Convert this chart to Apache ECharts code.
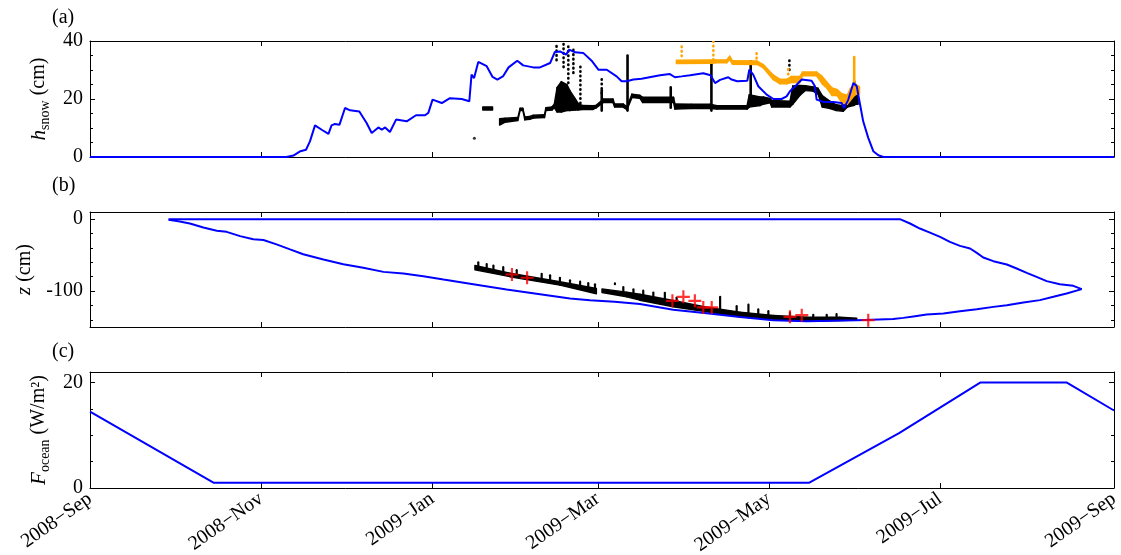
<!DOCTYPE html>
<html><head><meta charset="utf-8">
<script src="https://cdn.jsdelivr.net/npm/echarts@6/dist/echarts.min.js"></script>
<style>html,body{margin:0;padding:0;background:#fff}#c{width:1121px;height:555px}</style>
</head><body><div id="c"></div>
<script>
// ---------- axis ticks ----------
const startDate = '2008-09-01';   // day 0 of all "day" values below
const xTickDates = ['2008-09-01','2008-11-01','2009-01-01','2009-03-01','2009-05-01','2009-07-01','2009-09-01'];
const xTickLabels = ['2008\u2212Sep','2008\u2212Nov','2009\u2212Jan','2009\u2212Mar','2009\u2212May','2009\u2212Jul','2009\u2212Sep'];
const yTicksA = [0, 20, 40], yMinorA = [5, 10, 15, 25, 30, 35];
const yTicksB = [-100, 0], yMinorB = [-140, -120, -80, -60, -40, -20];
const yTicksC = [0, 20], yMinorC = [5, 10, 15];

// ---------- panel (a): snow depth (cm), [day, value] ----------
const snowModel = [[0,0],[70,0],[72.5,0.5],[75,2.0],[77,2.5],[78.4,5.4],[80.2,10.9],[82.6,9.4],[85,8.0],[86.1,10.9],[87.3,11.4],[88.9,11.1],[90.9,16.9],[92.7,16.1],[96,15.7],[98.6,11.7],[100.4,8.3],[102.8,10.2],[104,9.4],[105.2,10.2],[106.9,8.6],[109.1,12.9],[112.9,12.3],[116.2,14.4],[119.4,14.4],[120.6,15.2],[122.1,19.8],[125.4,18.6],[128.3,20.3],[132.5,20.0],[135.2,19.2],[136,28.4],[136.9,27.2],[138.4,32.8],[141.4,31.3],[143.5,27.6],[145.2,26.7],[147.3,27.9],[149.2,30.9],[152.3,33.2],[154.4,31.6],[158,30.9],[160.4,30.9],[164,32.4],[165.7,36.2],[167.5,36.4],[169.7,35.3],[170.8,37.0],[172.9,36.1],[175.8,35.9],[178.8,33.2],[181.2,30.1],[184.2,30.1],[187.7,27.8],[189.5,26.1],[191.3,26.1],[193.7,26.7],[196.6,27.0],[203.2,28.2],[206.7,28.6],[208.5,27.5],[210.9,27.8],[213.9,28.2],[218.6,28.9],[221.2,28.2],[222.8,25.5],[224.6,26.6],[227.5,27.5],[228.7,26.7],[230.7,26.1],[234.3,26.3],[235,30.1],[236.4,28.4],[238.2,24.4],[241.2,21.5],[243.6,20.0],[246.5,20.0],[248.3,20.9],[249.5,22.7],[251.9,24.9],[253.7,26.7],[257.2,26.3],[258.4,24.4],[259,19.8],[261.4,19.0],[264.9,19.0],[267.9,18.6],[268.8,16.9],[270.3,19.8],[272.1,25.5],[273.3,24.4],[274.5,18.0],[275.6,12.3],[277.4,6.6],[279.2,2.0],[281,0.6],[282.8,0],[365,0]];
// observed snow (black dots): runs of [day, low, high] bands
const snowObsRuns = [
  [[140,16.2,17.3],[143.5,16.2,17.3]],
  [[146,11,13.2],[148,12,13.4],[152.5,12.6,13.6],[153.3,16,16.8],[154.3,16,16.8],[155,12.8,13.8],[156.8,13,14],[158,13.4,14.4],[162,13.6,14.6],[162.5,16,17],[164.7,16.2,17.3],[165.5,17,18.2],[166.5,15.5,24],[168,15.5,26],[170,16,25],[171,16,23],[173,16.2,20],[174,16.2,18.5],[175.4,16.4,17.8],[179.3,16.4,17.7],[180.4,16.9,17.8],[183,18.8,20],[186.4,18.8,20],[187,17.2,18.3],[190,17.2,18.3],[191.4,16.3,17.3],[193.2,20.5,21.7],[196,20.2,21.3],[197,18.8,20.6],[208,18.8,20.6],[208.5,16.5,18.3],[214.3,16.7,18.2],[221,16.7,18.2],[223.5,16.5,17.7],[234.2,16.5,17.7],[235,17.2,21.5],[238.8,17.7,20.7],[240,18.2,20.7],[242.4,18.7,20.2],[243,17.2,19.5],[249.5,17.2,19.2],[250.5,18.2,24.5],[253,21.2,24.7],[255,22.9,24.6],[257.7,22.7,24.2],[259.5,21.7,23.7],[261,17.2,21.2],[263.8,16.7,19.2],[266,16,18],[268.5,15.8,17.7],[270,17.2,19.7],[272,17.7,20.2],[273,18.2,25],[273.8,18.2,21.7]]
];
const snowObsSpikes = [[182.4,16,23],[191.6,16,35],[207,17,24],[221.5,16,32],[235.5,18,33],[272.4,18,26]];
const snowObsSparse = [[166.3,33.4,39.3],[168.8,31,39.8],[170.5,25.5,38.6],[172.3,29,37],[174.8,17,32.4],[182.4,22,27.7],[249.3,30,34]];
const snowObsSingle = [[137,6.5]];
// second observation (orange dots)
const snowObs2Runs = [
  [[209,32.2,33.4],[222,32.3,33.5],[223,32.5,33.5],[227,32.5,33.5],[228,33.6,34.8],[229,32,33.2],[237.8,31.9,33.1],[240,30.7,31.9],[243.5,26.7,28.3],[246,25.2,26.8],[248.4,25.2,26.8],[250,25.7,27.8],[253,25.7,27.8],[254,28,29.3],[259,28,29.3],[261,25.2,27.8],[262.7,23.7,25.8],[264.5,21.2,23.8],[266.3,21.2,23.3],[268,18.7,21.8],[269.9,18.2,21.3],[271,19.5,23.6],[272.4,21.2,24.8],[273.3,21.7,24.8],[274.3,21.7,24.3]]
];
const snowObs2Spikes = [[272.4,24,34.5]];
const snowObs2Sparse = [[210.9,34.8,39.3],[222.2,33.5,40],[237.6,34,36.3],[248.9,28.5,30.5]];

// ---------- panel (b): ice surfaces z (cm) ----------
const iceTop = [[28,0],[288.7,0],[292.3,-6],[295.8,-13],[299.4,-18.6],[303,-24.6],[306.5,-31.6],[310.1,-37.1],[313.7,-40.8],[316.1,-46.8],[318.4,-53.3],[322,-58.4],[326.8,-63],[330.3,-68.6],[333.9,-74.6],[337.4,-80.2],[341,-86.2],[345.7,-90.4],[350.5,-92.7],[353.5,-97.3]];
const iceBottom = [[28,-0.8],[31.5,-2.8],[35.6,-6],[40.4,-11.5],[45.2,-16],[48.7,-17.6],[53.5,-23.6],[58.2,-28],[61.8,-29],[66.5,-35],[71.3,-42],[76,-48.7],[83.2,-56],[90.3,-62.6],[97.4,-67.7],[104.6,-73.3],[111.7,-75.6],[118.8,-79.3],[126,-83.9],[136.6,-90.4],[148.5,-97.8],[160.4,-104.3],[171.1,-110.3],[178.2,-112.7],[187,-115],[196,-118],[207.9,-126],[219.8,-131],[231.7,-136],[243.6,-140.5],[255.5,-141.9],[273.3,-140.5],[286.3,-139],[289.9,-137.3],[294.1,-134.9],[298.2,-132.6],[304.2,-131.2],[310.1,-128],[316.1,-125.2],[322,-122],[326.8,-119.6],[332.7,-115.9],[338.6,-112.6],[343.4,-108],[348.1,-103.3],[353.5,-97.3]];
const iceBottomObsRuns = [
  [[137.2,-70.5,-64.5],[149.7,-80,-75],[167.5,-91.8,-87],[180.5,-103.8,-96.5]],
  [[182.5,-102,-97],[191.3,-108,-101.5],[196,-112.7,-104.5],[207.9,-121.9,-113.2],[219.8,-128.8,-122.4],[231.7,-135.8,-129.3],[243.6,-139.5,-134],[255.5,-141.9,-136.2],[267.3,-141,-136.4],[273.3,-140.5,-137.8]]
];
const iceBottomObsSpikes = [[138.4,-68,-60],[141.4,-70,-62.5],[143.8,-72,-64.5],[147.3,-74,-66.5],[152.1,-78,-71],[161,-85,-76],[164,-87,-78],[167.5,-89,-81.5],[171.1,-92,-85],[174.7,-94,-87],[177.6,-96,-89],[180,-98,-90.5],[187.1,-90.5,-89.4],[190.1,-103,-94.5],[193.7,-105,-97.5],[197.2,-106,-99.5],[200.8,-110,-102],[204.9,-113,-102.5],[209.1,-116,-109],[224.6,-126,-108],[230.5,-130,-121],[234.7,-132,-119],[238.2,-134,-125.5],[241.8,-135,-128],[249.5,-137,-130],[257.8,-138,-133],[262.6,-138,-133],[266.1,-138,-132]];
const iceCores = [[150.4,-77],[155.8,-81.5],[207.6,-113.6],[211.5,-108],[215.6,-113.6],[218.6,-122.8],[221.6,-122.8],[249.5,-135.8],[253.7,-133.5],[277.4,-140.5]];

// ---------- panel (c): ocean heat flux (W/m2) ----------
const oceanFlux = [[0,14.5],[44,1],[256.4,1],[288.4,10.4],[317.3,20],[348.2,20],[365,14.7]];

// ---------- helpers ----------
const DAY0 = Date.parse(startDate);
const ts = d => DAY0 + d * 86400000;
const pts = arr => arr.map(p => [ts(p[0]), p[1]]);
const cols = arr => arr.map(p => [ts(p[0]), p[1], p[2]]);
function runsToItems(runs) {
  const out = [];
  runs.forEach(run => {
    if (run.length === 1) { const p = run[0]; out.push([ts(p[0]), p[1], p[2], ts(p[0]), p[1], p[2]]); }
    for (let i = 0; i < run.length - 1; i++) {
      const p = run[i], q = run[i + 1];
      out.push([ts(p[0]), p[1], p[2], ts(q[0]), q[1], q[2]]);
    }
  });
  return out;
}
const FONT = "'Liberation Serif', 'DejaVu Serif', serif";
const FS = 20;
const BLUE = '#0000ff', ORANGE = '#ffa500', BLACK = '#000000', RED = '#ff0000';
const xTickValues = xTickDates.map(d => Date.parse(d));

function bandSeries(runs, color, g) {
  return {
    type: 'custom', xAxisIndex: 2 * g, yAxisIndex: 4 * g, silent: true, clip: true,
    data: runsToItems(runs), encode: { x: [0, 3], y: [1, 2, 4, 5] },
    renderItem(params, api) {
      const a = api.coord([api.value(0), api.value(1)]);
      const b = api.coord([api.value(0), api.value(2)]);
      const c = api.coord([api.value(3), api.value(5)]);
      const d = api.coord([api.value(3), api.value(4)]);
      return { type: 'polygon', shape: { points: [a, b, c, d] },
        style: { fill: color, stroke: color, lineWidth: 1.4, lineJoin: 'round' } };
    }
  };
}
function columnSeries(arr, color, g, dotted, w) {
  return {
    type: 'custom', xAxisIndex: 2 * g, yAxisIndex: 4 * g, silent: true, clip: true,
    data: cols(arr), encode: { x: 0, y: [1, 2] },
    renderItem(params, api) {
      const a = api.coord([api.value(0), api.value(1)]);
      const b = api.coord([api.value(0), api.value(2)]);
      return { type: 'line', shape: { x1: a[0], y1: a[1], x2: b[0], y2: b[1] },
        style: { stroke: color, lineWidth: w || 2.6, lineCap: 'round', lineDash: dotted ? [0.5, 4] : null } };
    }
  };
}
function lineSeries(arr, g, w) {
  return { type: 'line', xAxisIndex: 2 * g, yAxisIndex: 4 * g, data: pts(arr), showSymbol: false, symbol: 'none',
    silent: true, clip: true, lineStyle: { color: BLUE, width: w }, z: 3 };
}

// ---------- layout ----------
const grids = [
  { left: 90, top: 41, width: 1024, height: 116 },
  { left: 90, top: 212, width: 1024, height: 115 },
  { left: 90, top: 372, width: 1024, height: 116 }
];
const yRanges = [[0, 40], [-150, 10], [0, 22]];
const yMajor = [yTicksA, yTicksB, yTicksC];
const yMinor = [yMinorA, yMinorB, yMinorC];
const richName = {
  i: { fontFamily: FONT, fontStyle: 'italic', fontSize: 21, lineHeight: 26, color: '#000' },
  s: { fontFamily: FONT, fontSize: 14, lineHeight: 14, verticalAlign: 'bottom', color: '#000' },
  m: { fontFamily: FONT, fontSize: 20, lineHeight: 26, color: '#000' }
};
const yNames = ['{i|h}{s|snow}{m| (cm)}', '{i|z}{m| (cm)}', '{i|F}{s|ocean}{m| (W/m\u00b2)}'];

const xAxes = [], yAxes = [];
for (let g = 0; g < 3; g++) {
  ['bottom', 'top'].forEach(pos => {
    const withLabels = g === 2 && pos === 'bottom';
    xAxes.push({
      type: 'value', gridIndex: g, position: pos, min: xTickValues[0], max: xTickValues[xTickValues.length - 1],
      axisLine: { show: true, onZero: false, lineStyle: { color: '#000', width: 1 } },
      axisTick: { show: true, inside: true, length: 5, customValues: xTickValues, lineStyle: { color: '#000' } },
      axisLabel: withLabels ? {
        show: true, customValues: xTickValues, rotate: 35, margin: 9, color: '#000', fontFamily: FONT, fontSize: FS,
        hideOverlap: false,
        formatter: v => { const i = xTickValues.indexOf(Number(v)); return i >= 0 ? xTickLabels[i] : ''; }
      } : { show: false, customValues: xTickValues },
      splitLine: { show: false }, minorTick: { show: false }
    });
  });
  ['left', 'right'].forEach(pos => {
    const isLeft = pos === 'left';
    const base = { type: 'value', gridIndex: g, position: pos, min: yRanges[g][0], max: yRanges[g][1], splitLine: { show: false } };
    yAxes.push(Object.assign({}, base, {
      axisLine: { show: true, onZero: false, lineStyle: { color: '#000', width: 1 } },
      axisTick: { show: true, inside: true, length: 5, customValues: yMajor[g], lineStyle: { color: '#000' } },
      axisLabel: { show: isLeft, customValues: yMajor[g], color: '#000', fontFamily: FONT, fontSize: FS, margin: 7 },
      name: isLeft ? yNames[g] : '', nameLocation: 'middle', nameRotate: 90, nameGap: 30,
      nameTextStyle: { color: '#000', fontFamily: FONT, fontSize: FS, rich: richName }
    }));
    yAxes.push(Object.assign({}, base, {
      axisLine: { show: false, onZero: false },
      axisTick: { show: true, inside: true, length: 3, customValues: yMinor[g], lineStyle: { color: '#000' } },
      axisLabel: { show: false, customValues: yMinor[g] }
    }));
  });
}

const series = [
  // (a)
  lineSeries(snowModel, 0, 2),
  bandSeries(snowObsRuns, BLACK, 0),
  columnSeries(snowObsSpikes, BLACK, 0, false),
  columnSeries(snowObsSparse, BLACK, 0, true),
  { type: 'scatter', xAxisIndex: 0, yAxisIndex: 0, data: pts(snowObsSingle), symbolSize: 3, itemStyle: { color: BLACK }, silent: true },
  bandSeries(snowObs2Runs, ORANGE, 0),
  columnSeries(snowObs2Spikes, ORANGE, 0, false),
  columnSeries(snowObs2Sparse, ORANGE, 0, true),
  // (b)
  bandSeries(iceBottomObsRuns, BLACK, 1),
  columnSeries(iceBottomObsSpikes, BLACK, 1, false, 2.2),
  lineSeries(iceBottom, 1, 2),
  lineSeries(iceTop, 1, 2),
  { type: 'scatter', xAxisIndex: 2, yAxisIndex: 4, data: pts(iceCores), symbol: 'path://M5,0h2v5h5v2h-5v5h-2v-5h-5v-2h5z',
    symbolSize: 13, itemStyle: { color: RED }, silent: true, z: 5 },
  // (c)
  lineSeries(oceanFlux, 2, 2)
];

const chart = echarts.init(document.getElementById('c'), null, { renderer: 'canvas' });
chart.setOption({
  backgroundColor: '#ffffff',
  animation: false,
  grid: grids.map(g => Object.assign({ outerBoundsMode: 'none', containLabel: false }, g)),
  xAxis: xAxes,
  yAxis: yAxes,
  graphic: [
    { type: 'text', left: 52, top: 8, style: { text: '(a)', fontFamily: FONT, fontSize: FS, fill: '#000' } },
    { type: 'text', left: 52, top: 176, style: { text: '(b)', fontFamily: FONT, fontSize: FS, fill: '#000' } },
    { type: 'text', left: 52, top: 342, style: { text: '(c)', fontFamily: FONT, fontSize: FS, fill: '#000' } }
  ],
  series: series
});
</script></body></html>
